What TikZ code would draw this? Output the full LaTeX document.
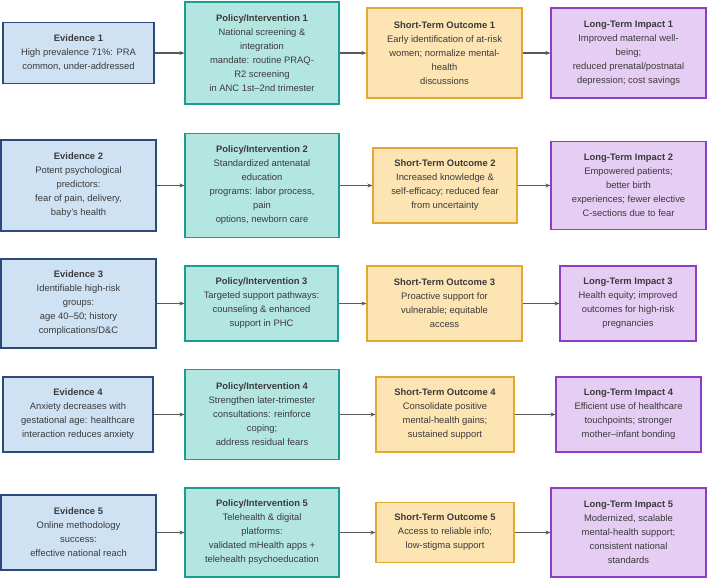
\documentclass[tikz,border=0pt]{standalone}
\usepackage{fontspec}
\setsansfont{Liberation Sans}
\usetikzlibrary{arrows.meta}

\definecolor{evline}{HTML}{2C4A7C}
\definecolor{evfill}{HTML}{CFE2F4}
\definecolor{polline}{HTML}{1A9E93}
\definecolor{polfill}{HTML}{B4E6E1}
\definecolor{stoline}{HTML}{E2A82F}
\definecolor{stofill}{HTML}{FDE4B3}
\definecolor{ltiline}{HTML}{8B3FC6}
\definecolor{ltifill}{HTML}{E6CDF4}
\definecolor{bodytext}{HTML}{3A3A3A}

\begin{document}
\begin{tikzpicture}[x=1pt,y=-1pt,font=\sffamily\fontsize{9.4}{14}\selectfont]
  \path[use as bounding box] (0,0) rectangle (708,580);
  \fill[white] (0,0) rectangle (708,580);

  \tikzset{box/.style n args={4}{draw=#1,line width=1.1pt,fill=#2,
    minimum width=#3,minimum height=#4,align=center,inner sep=4pt,text=bodytext},
    arrow/.style={-{Stealth[length=5pt,width=4pt]},line width=1.2pt,draw=black!65}}

  % row 1
  \node[box={evline}{evfill}{151pt}{61pt}] (ev1) at (78.5,53)
    {\textbf{Evidence 1}\\
     High prevalence 71\%: PRA\\
     common, under-addressed};
  \node[box={polline}{polfill}{154pt}{102pt}] (pol1) at (262,53)
    {\textbf{Policy/Intervention 1}\\
     National screening \&\\
     integration\\
     mandate: routine PRAQ-\\
     R2 screening\\
     in ANC 1st--2nd trimester};
  \node[box={stoline}{stofill}{155pt}{90pt}] (sto1) at (444.5,53)
    {\textbf{Short-Term Outcome 1}\\
     Early identification of at-risk\\
     women; normalize mental-\\
     health\\
     discussions};
  \node[box={ltiline}{ltifill}{155pt}{90pt}] (lti1) at (628.5,53)
    {\textbf{Long-Term Impact 1}\\
     Improved maternal well-\\
     being;\\
     reduced prenatal/postnatal\\
     depression; cost savings};

  % row 2
  \node[box={evline}{evfill}{155pt}{91pt}] (ev2) at (78.5,185.5)
    {\textbf{Evidence 2}\\
     Potent psychological\\
     predictors:\\
     fear of pain, delivery,\\
     baby's health};
  \node[box={polline}{polfill}{154pt}{104pt}] (pol2) at (262,185.5)
    {\textbf{Policy/Intervention 2}\\
     Standardized antenatal\\
     education\\
     programs: labor process,\\
     pain\\
     options, newborn care};
  \node[box={stoline}{stofill}{144pt}{75pt}] (sto2) at (445,185.5)
    {\textbf{Short-Term Outcome 2}\\
     Increased knowledge \&\\
     self-efficacy; reduced fear\\
     from uncertainty};
  \node[box={ltiline}{ltifill}{155pt}{88pt}] (lti2) at (628.5,185.5)
    {\textbf{Long-Term Impact 2}\\
     Empowered patients;\\
     better birth\\
     experiences; fewer elective\\
     C-sections due to fear};

  % row 3
  \node[box={evline}{evfill}{155pt}{89pt}] (ev3) at (78.5,303.5)
    {\textbf{Evidence 3}\\
     Identifiable high-risk\\
     groups:\\
     age 40--50; history\\
     complications/D\&C};
  \node[box={polline}{polfill}{153pt}{75pt}] (pol3) at (261.5,303.5)
    {\textbf{Policy/Intervention 3}\\
     Targeted support pathways:\\
     counseling \& enhanced\\
     support in PHC};
  \node[box={stoline}{stofill}{155pt}{75pt}] (sto3) at (444.5,303.5)
    {\textbf{Short-Term Outcome 3}\\
     Proactive support for\\
     vulnerable; equitable\\
     access};
  \node[box={ltiline}{ltifill}{136pt}{75pt}] (lti3) at (628,303.5)
    {\textbf{Long-Term Impact 3}\\
     Health equity; improved\\
     outcomes for high-risk\\
     pregnancies};

  % row 4
  \node[box={evline}{evfill}{150pt}{75pt}] (ev4) at (78,414.5)
    {\textbf{Evidence 4}\\
     Anxiety decreases with\\
     gestational age: healthcare\\
     interaction reduces anxiety};
  \node[box={polline}{polfill}{154pt}{90pt}] (pol4) at (262,414.5)
    {\textbf{Policy/Intervention 4}\\
     Strengthen later-trimester\\
     consultations: reinforce\\
     coping;\\
     address residual fears};
  \node[box={stoline}{stofill}{138pt}{75pt}] (sto4) at (445,414.5)
    {\textbf{Short-Term Outcome 4}\\
     Consolidate positive\\
     mental-health gains;\\
     sustained support};
  \node[box={ltiline}{ltifill}{145pt}{75pt}] (lti4) at (628.5,414.5)
    {\textbf{Long-Term Impact 4}\\
     Efficient use of healthcare\\
     touchpoints; stronger\\
     mother--infant bonding};

  % row 5
  \node[box={evline}{evfill}{155pt}{75pt}] (ev5) at (78.5,532.5)
    {\textbf{Evidence 5}\\
     Online methodology\\
     success:\\
     effective national reach};
  \node[box={polline}{polfill}{154pt}{89pt}] (pol5) at (262,532.5)
    {\textbf{Policy/Intervention 5}\\
     Telehealth \& digital\\
     platforms:\\
     validated mHealth apps +\\
     telehealth psychoeducation};
  \node[box={stoline}{stofill}{138pt}{60pt}] (sto5) at (445,532.5)
    {\textbf{Short-Term Outcome 5}\\
     Access to reliable info;\\
     low-stigma support};
  \node[box={ltiline}{ltifill}{155pt}{89pt}] (lti5) at (628.5,532.5)
    {\textbf{Long-Term Impact 5}\\
     Modernized, scalable\\
     mental-health support;\\
     consistent national\\
     standards};

  \foreach \r in {1,...,5} {
    \draw[arrow] (ev\r.east) -- (pol\r.west);
    \draw[arrow] (pol\r.east) -- (sto\r.west);
    \draw[arrow] (sto\r.east) -- (lti\r.west);
  }
\end{tikzpicture}
\end{document}
